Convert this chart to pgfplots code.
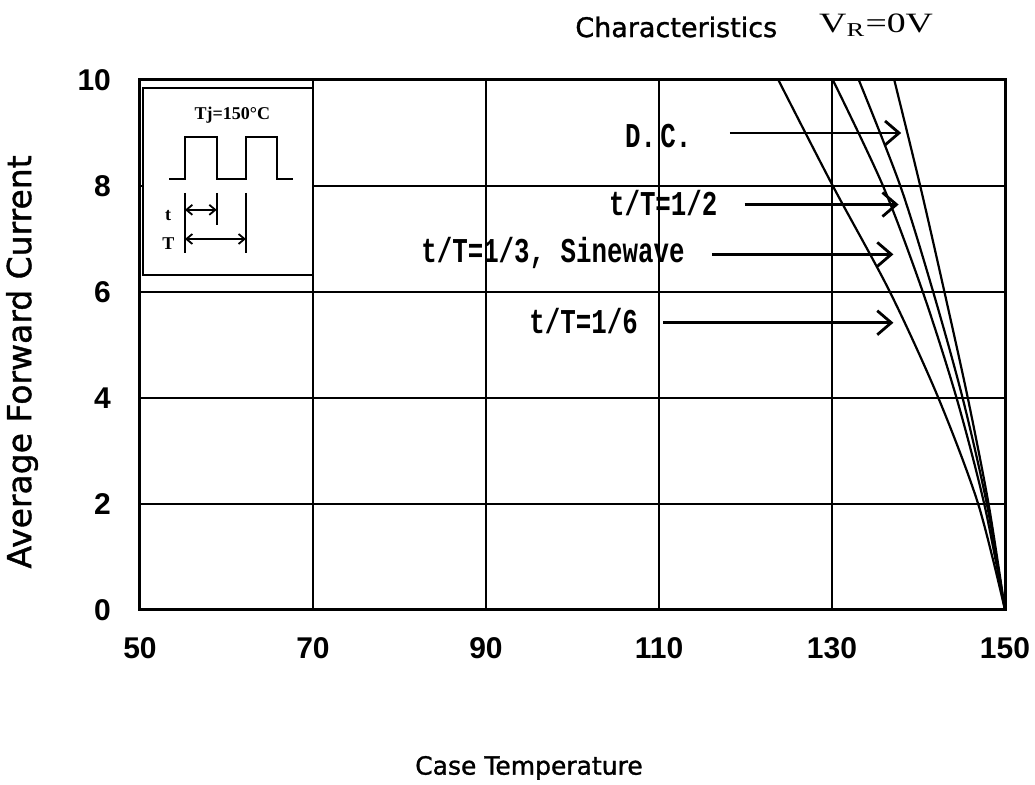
\documentclass[border=0pt]{standalone}
\usepackage{fontspec}
\setmainfont{Liberation Sans}
\setmonofont{Liberation Mono}
\newfontfamily\djv{DejaVu Sans}[FakeBold=1.2]
\newfontfamily\ser{Liberation Serif}
\usepackage{pgfplots}
\usepackage{pgfplotstable}
\pgfplotsset{compat=1.18}
\usetikzlibrary{arrows.meta}

\pgfplotstableread{
x y
123.8 10
130.1 8
136.7 6
142.3 4
146.9 2
150 0
}\sixth
\pgfplotstableread{
x y
130.1 10
135.9 8
140.5 6
144.4 4
147.6 2
150 0
}\third
\pgfplotstableread{
x y
133.1 10
137.9 8
141.7 6
145.1 4
147.9 2
150 0
}\half
\pgfplotstableread{
x y
137.2 10
140.2 8
143.0 6
145.7 4
148.1 2
150 0
}\dc

\newcommand{\lbl}[1]{\scalebox{1}[1.35]{\fontsize{12.9}{13}\ttfamily\bfseries #1}}

\begin{document}
\begin{tikzpicture}
\useasboundingbox (-70pt,-87.5pt) rectangle (447.5pt,305pt);
\begin{axis}[
  at={(0,0)}, anchor=south west,
  scale only axis, width=432.5pt, height=265pt,
  xmin=50, xmax=150, ymin=0, ymax=10,
  xtick={50,70,90,110,130,150}, ytick={0,2,4,6,8,10},
  grid=major, major grid style={black, line width=1.4pt},
  axis line style={black, line width=1.5pt},
  tick style={draw=none},
  ticklabel style={font=\fontsize{15}{15}\selectfont\bfseries},
  /pgf/number format/assume math mode=true,
  xticklabel style={yshift=-10pt},
  yticklabel style={xshift=-11pt},
  xlabel={Case Temperature},
  ylabel={Average Forward Current},
  every axis x label/.style={at={(rel axis cs:0.4497,-0.298)}, anchor=center, font=\djv\fontsize{12.5}{13}\selectfont},
  every axis y label/.style={at={(rel axis cs:-0.1364,0.468)}, rotate=90, anchor=center, font=\djv\fontsize{16.5}{17}\selectfont},
  clip=false,
]
\addplot[black, line width=1.1pt, smooth, tension=0.5] table {\sixth};
\addplot[black, line width=1.1pt, smooth, tension=0.5] table {\third};
\addplot[black, line width=1.1pt, smooth, tension=0.5] table {\half};
\addplot[black, line width=1.1pt, smooth, tension=0.5] table {\dc};

% arrows and labels
\draw[line width=1.4pt, -{Straight Barb[length=7pt,width=12pt]}] (axis cs:118.2,9.0) -- (axis cs:138.0,9.0);
\draw[line width=1.4pt, -{Straight Barb[length=7pt,width=12pt]}] (axis cs:119.9,7.65) -- (axis cs:137.7,7.65);
\draw[line width=1.4pt, -{Straight Barb[length=7pt,width=12pt]}] (axis cs:116.1,6.71) -- (axis cs:137.1,6.71);
\draw[line width=1.4pt, -{Straight Barb[length=7pt,width=12pt]}] (axis cs:110.5,5.42) -- (axis cs:137.1,5.42);
\node[anchor=east, inner sep=0pt] at (axis cs:113.8,8.95) {\lbl{D.\,C.}};
\node[anchor=east, inner sep=0pt] at (axis cs:116.8,7.68) {\lbl{t/T=1/2}};
\node[anchor=east, inner sep=0pt] at (axis cs:113.0,6.73) {\lbl{t/T=1/3, Sinewave}};
\node[anchor=east, inner sep=0pt] at (axis cs:107.6,5.45) {\lbl{t/T=1/6}};

% inset
\draw[fill=white, line width=1pt] (axis cs:50.3,9.84) rectangle (axis cs:70,6.32);
\node[font=\ser\bfseries\fontsize{9}{9}\selectfont] at (axis cs:60.69,9.34) {Tj=150°C};
\draw[line width=1pt] (axis cs:53.39,8.13) -- (axis cs:55.2,8.13) -- (axis cs:55.2,8.93) -- (axis cs:58.87,8.93) -- (axis cs:58.87,8.13) -- (axis cs:62.25,8.13) -- (axis cs:62.25,8.93) -- (axis cs:65.8,8.93) -- (axis cs:65.8,8.13) -- (axis cs:67.72,8.13);
\draw[line width=1pt] (axis cs:55.2,7.87) -- (axis cs:55.2,6.74);
\draw[line width=1pt] (axis cs:58.87,7.87) -- (axis cs:58.87,7.26);
\draw[line width=1pt] (axis cs:62.25,7.87) -- (axis cs:62.25,6.74);
\draw[line width=0.9pt, {Straight Barb[length=3pt,width=5pt]}-{Straight Barb[length=3pt,width=5pt]}] (axis cs:55.2,7.55) -- (axis cs:58.87,7.55);
\draw[line width=0.9pt, {Straight Barb[length=3pt,width=5pt]}-{Straight Barb[length=3pt,width=5pt]}] (axis cs:55.2,7.0) -- (axis cs:62.25,7.0);
\node[font=\ser\bfseries\fontsize{9}{9}\selectfont] at (axis cs:53.24,7.45) {t};
\node[font=\ser\bfseries\fontsize{9}{9}\selectfont] at (axis cs:53.27,6.92) {T};

% title
\node[font=\djv\fontsize{13.5}{14}\selectfont] at (axis cs:112.0,11.0) {Characteristics};
\node at (axis cs:135.1,11.03) {\scalebox{1.35}[1]{\ser\fontsize{14}{14}\selectfont V\textsubscript{R}=0V}};
\end{axis}
\end{tikzpicture}
\end{document}
